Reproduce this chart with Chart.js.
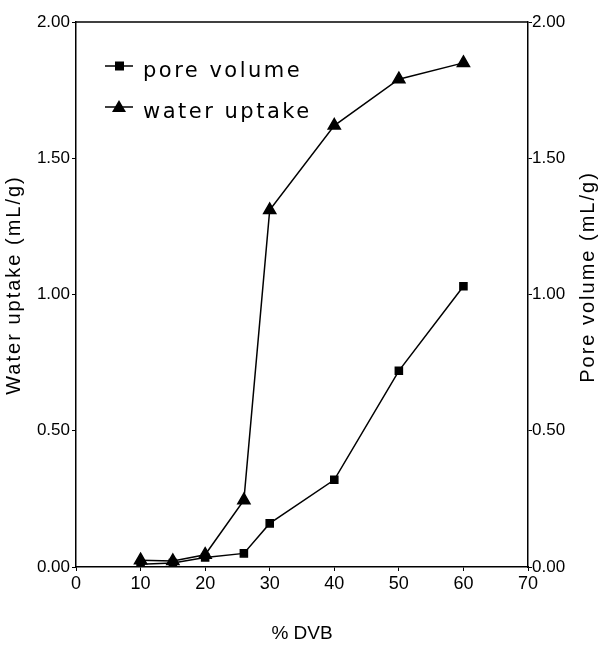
<!DOCTYPE html>
<html>
<head>
<meta charset="utf-8">
<script src="https://cdn.jsdelivr.net/npm/chart.js@4"></script>
<style>
    body { margin: 0; background: #fff; }
    #wrap { width: 600px; height: 645px; }
</style>
</head>
<body>
<div id="wrap"><canvas id="myChart"></canvas></div>
<script>
// % DVB on the x axis
const dvb = [10, 15, 20, 26, 30, 40, 50, 60];
// values (mL/g)
const poreVolume = [0.01, 0.015, 0.035, 0.05, 0.16, 0.32, 0.72, 1.03];
const waterUptake = [0.025, 0.022, 0.045, 0.245, 1.31, 1.62, 1.79, 1.85];
const yTicks = [0, 0.5, 1.0, 1.5, 2.0];

const font = 'Liberation Sans, Arial, sans-serif';
const wideFont = 'DejaVu Sans, sans-serif';

function toPoints(xs, ys) {
    return xs.map((x, i) => ({ x: x, y: ys[i] }));
}

// rotated title, reads bottom to top
function sideTitle(ctx, text, x, y) {
    ctx.save();
    ctx.translate(x, y);
    ctx.rotate(-Math.PI / 2);
    ctx.textAlign = 'center';
    ctx.textBaseline = 'middle';
    ctx.font = '20px ' + font;
    ctx.letterSpacing = '2px';
    ctx.fillStyle = '#000';
    ctx.fillText(text, 0, 0);
    ctx.restore();
}

// legend inside the plot, top border, axis titles
const extras = {
    id: 'extras',
    afterDraw(chart) {
        const ctx = chart.ctx;
        const area = chart.chartArea;
        ctx.save();
        ctx.strokeStyle = '#000';
        ctx.lineWidth = 1.5;
        ctx.beginPath();
        ctx.moveTo(area.left, area.top);
        ctx.lineTo(area.right, area.top);
        ctx.stroke();

        chart.data.datasets.forEach((ds, i) => {
            const y = area.top + 44 + i * 41;
            const x0 = area.left + 29;
            ctx.lineWidth = 1.5;
            ctx.beginPath();
            ctx.moveTo(x0, y);
            ctx.lineTo(x0 + 28, y);
            ctx.stroke();
            ctx.fillStyle = '#000';
            if (ds.pointStyle === 'rect') {
                ctx.fillRect(x0 + 10, y - 4.5, 9, 9);
            } else {
                ctx.beginPath();
                ctx.moveTo(x0 + 14, y - 7);
                ctx.lineTo(x0 + 21, y + 5);
                ctx.lineTo(x0 + 7, y + 5);
                ctx.closePath();
                ctx.fill();
            }
            ctx.font = '21px ' + wideFont;
            ctx.letterSpacing = '2.5px';
            ctx.textBaseline = 'middle';
            ctx.fillText(ds.label, x0 + 38, y + 6);
        });
        ctx.restore();

        sideTitle(ctx, 'Water uptake (mL/g)', 14, 285);
        sideTitle(ctx, 'Pore volume (mL/g)', 588, 277);
    }
};

const ctx = document.getElementById('myChart').getContext('2d');
const myChart = new Chart(ctx, {
    type: 'line',
    data: {
        datasets: [
            {
                label: 'pore volume',
                data: toPoints(dvb, poreVolume),
                yAxisID: 'y2',
                borderColor: '#000',
                backgroundColor: '#000',
                borderWidth: 1.5,
                pointStyle: 'rect',
                pointRadius: 5,
                pointHoverRadius: 5
            },
            {
                label: 'water uptake',
                data: toPoints(dvb, waterUptake),
                yAxisID: 'y',
                borderColor: '#000',
                backgroundColor: '#000',
                borderWidth: 1.5,
                pointStyle: 'triangle',
                pointRadius: 7,
                pointHoverRadius: 7
            }
        ]
    },
    options: {
        responsive: true,
        maintainAspectRatio: false,
        animation: false,
        layout: { padding: { top: 22, left: 0, right: 0, bottom: 0 } },
        plugins: {
            legend: { display: false },
            tooltip: { enabled: false }
        },
        scales: {
            x: {
                type: 'linear',
                min: 0,
                max: 70,
                border: { color: '#000', width: 1.5 },
                grid: { drawOnChartArea: false, color: '#000', tickLength: 4 },
                ticks: { stepSize: 10, color: '#000', font: { size: 18, family: font }, padding: 2 },
                title: { display: true, text: '% DVB', color: '#000', font: { size: 19, family: font }, padding: { top: 0, bottom: 0 } },
                afterFit(scale) { scale.height = 78; }
            },
            y: {
                position: 'left',
                min: 0,
                max: 2,
                border: { color: '#000', width: 1.5 },
                grid: { drawOnChartArea: false, color: '#000', tickLength: 4 },
                afterBuildTicks(scale) { scale.ticks = yTicks.map(v => ({ value: v })); },
                ticks: {
                    color: '#000',
                    font: { size: 17, family: font },
                    padding: 2,
                    callback: v => v.toFixed(2)
                },
                afterFit(scale) { scale.width = 76; }
            },
            y2: {
                position: 'right',
                min: 0,
                max: 2,
                border: { color: '#000', width: 1.5 },
                grid: { drawOnChartArea: false, color: '#000', tickLength: 4 },
                afterBuildTicks(scale) { scale.ticks = yTicks.map(v => ({ value: v })); },
                ticks: {
                    color: '#000',
                    font: { size: 17, family: font },
                    padding: 0,
                    callback: v => v.toFixed(2)
                },
                afterFit(scale) { scale.width = 72; }
            }
        }
    },
    plugins: [extras]
});
</script>
</body>
</html>
